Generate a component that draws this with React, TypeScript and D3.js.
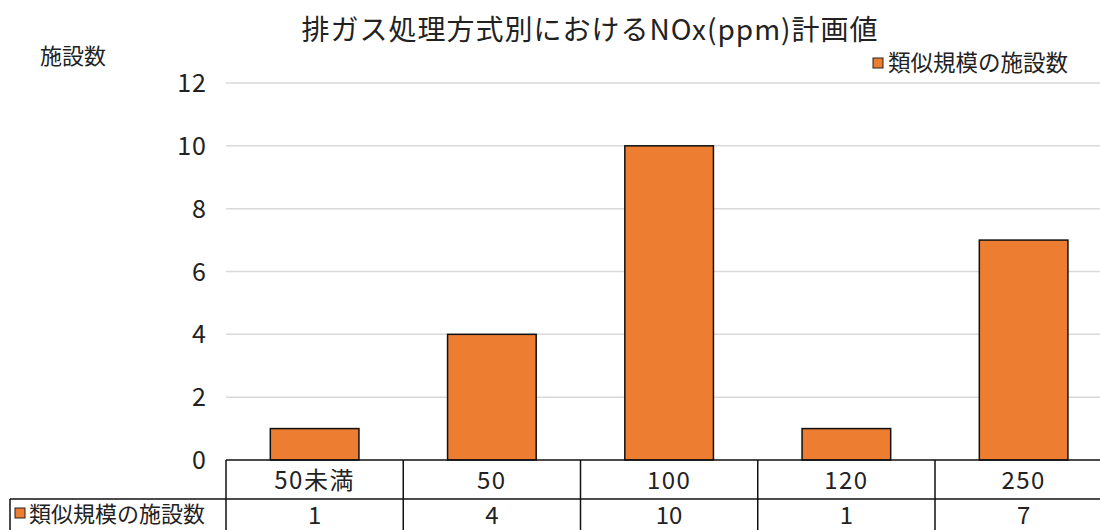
import * as d3 from "d3";

const categories = ["50未満", "50", "100", "120", "250"];
const counts = [1, 4, 10, 1, 7];
const yTicks = [0, 2, 4, 6, 8, 10, 12];
const seriesName = "類似規模の施設数";
const title = "排ガス処理方式別におけるNOx(ppm)計画値";
const yTitle = "施設数";

const W = 1100;
const H = 530;
const margin = { top: 83, left: 226, bottom: 460 };
const step = 177.25;
const barColor = "#ED7D31";
const font = "'Noto Sans CJK JP', 'Noto Sans', sans-serif";

const App = () => {
	const x = d3
		.scaleBand()
		.domain(categories)
		.range([margin.left, margin.left + step * categories.length])
		.paddingInner(0.5)
		.paddingOuter(0.25);

	const y = d3.scaleLinear().domain([0, 12]).range([margin.bottom, margin.top]);

	const rowTop = margin.bottom;
	const rowMid = 499;
	const rowBot = 538;
	const tableLeft = 10;
	const cellEdges = categories.map((c, i) => margin.left + i * step);

	return (
		<svg width={W} height={H} style={{ position: "absolute", left: 0, top: 0, background: "#fff" }} fontFamily={font}>
			<text x={590} y={40} textAnchor="middle" fontSize={28} letterSpacing={1} fill="#222">{title}</text>
			<text x={40} y={64} fontSize={22} fill="#222">{yTitle}</text>

			<rect x={873} y={58} width={10} height={10} fill={barColor} stroke="#222" strokeWidth={1} />
			<text x={888} y={71} fontSize={22.5} fill="#222">{seriesName}</text>

			{yTicks.map(t => (
				<g key={t}>
					{t > 0 && <line x1={margin.left} x2={W} y1={y(t)} y2={y(t)} stroke="#d9d9d9" strokeWidth={1.5} />}
					<text x={207} y={y(t) + 9} textAnchor="end" fontSize={25} letterSpacing={1} fill="#222">{t}</text>
				</g>
			))}

			{categories.map((c, i) => (
				<rect
					key={c}
					x={x(c)}
					y={y(counts[i])}
					width={x.bandwidth()}
					height={y(0) - y(counts[i])}
					fill={barColor}
					stroke="#111"
					strokeWidth={1.5}
				/>
			))}

			{/* data table */}
			<g stroke="#111" strokeWidth={1.5} fill="none">
				<line x1={margin.left} x2={W} y1={rowTop} y2={rowTop} />
				<line x1={tableLeft} x2={W} y1={rowMid} y2={rowMid} />
				<line x1={tableLeft} x2={tableLeft} y1={rowMid} y2={rowBot} />
				{cellEdges.map((e, i) => (
					<line key={i} x1={e} x2={e} y1={rowTop} y2={rowBot} />
				))}
			</g>
			{categories.map((c, i) => (
				<g key={c}>
					<text x={x(c) + x.bandwidth() / 2} y={rowTop + 29} textAnchor="middle" fontSize={24} letterSpacing={1.5} fill="#222">{c}</text>
					<text x={x(c) + x.bandwidth() / 2} y={524} textAnchor="middle" fontSize={24} fill="#222">{counts[i]}</text>
				</g>
			))}
			<rect x={15} y={508} width={10} height={10} fill={barColor} stroke="#222" strokeWidth={1} />
			<text x={29} y={522} fontSize={22} fill="#222">{seriesName}</text>
		</svg>
	);
};

export default App;
